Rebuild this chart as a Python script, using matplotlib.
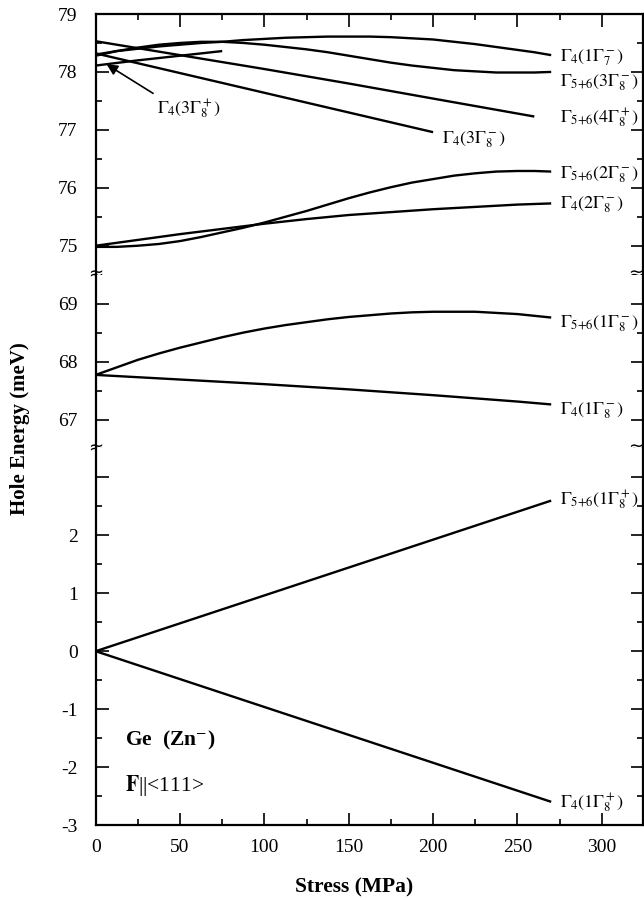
import numpy as np
import matplotlib
matplotlib.use("Agg")
import matplotlib.pyplot as plt
from matplotlib.ticker import MultipleLocator, FixedLocator

plt.rcParams['font.family'] = 'serif'
plt.rcParams['font.serif'] = ['Liberation Serif', 'DejaVu Serif']
plt.rcParams['mathtext.fontset'] = 'stix'
plt.rcParams['axes.unicode_minus'] = False

# ---- data (stress in MPa, energy in meV) ----
s_fine = [0, 12.5, 25, 37.5, 50, 62.5, 75, 87.5, 100, 112.5, 125, 137.5, 150,
          162.5, 175, 187.5, 200, 212.5, 225, 237.5, 250, 260, 270]
# top panel
e_g4_1g7m = [78.30, 78.36, 78.40, 78.44, 78.47, 78.50, 78.52, 78.55, 78.57, 78.59,
             78.60, 78.61, 78.61, 78.61, 78.60, 78.58, 78.56, 78.52, 78.48, 78.43,
             78.38, 78.34, 78.29]
e_g56_3g8m = [78.28, 78.36, 78.42, 78.47, 78.50, 78.52, 78.52, 78.50, 78.47, 78.43,
              78.39, 78.34, 78.28, 78.22, 78.16, 78.11, 78.07, 78.03, 78.01, 77.99,
              77.99, 77.99, 78.00]
s_4g8p = [0, 50, 100, 150, 200, 260]
e_g56_4g8p = [78.53, 78.29, 78.05, 77.80, 77.54, 77.23]
s_3g8m_4 = [0, 50, 100, 150, 200]
e_g4_3g8m = [78.32, 77.98, 77.64, 77.30, 76.96]
s_3g8p = [0, 25, 50, 75]
e_g4_3g8p = [78.11, 78.20, 78.28, 78.36]
e_g56_2g8m = [74.98, 74.98, 75.00, 75.03, 75.08, 75.15, 75.23, 75.31, 75.40, 75.50,
              75.60, 75.71, 75.82, 75.92, 76.01, 76.09, 76.15, 76.21, 76.25, 76.28,
              76.29, 76.29, 76.28]
s_2g8m_4 = [0, 25, 50, 75, 100, 125, 150, 175, 200, 225, 250, 270]
e_g4_2g8m = [75.00, 75.10, 75.20, 75.29, 75.38, 75.46, 75.53, 75.58, 75.63, 75.67, 75.71, 75.73]
# middle panel
e_g56_1g8m = [67.77, 67.90, 68.03, 68.14, 68.24, 68.33, 68.42, 68.50, 68.57, 68.63,
              68.68, 68.73, 68.77, 68.80, 68.83, 68.85, 68.86, 68.86, 68.86, 68.84,
              68.82, 68.79, 68.76]
s_1g8m_4 = [0, 50, 100, 150, 200, 250, 270]
e_g4_1g8m = [67.77, 67.69, 67.61, 67.52, 67.42, 67.31, 67.26]
# bottom panel
s_1g8p = [0, 270]
e_g56_1g8p = [0.0, 2.60]
e_g4_1g8p = [0.0, -2.60]

# label text and where the Gamma sits (stress, energy)
labels_top = [
    (r'$\Gamma_4(1\Gamma_7^-)$', 275, 78.29),
    (r'$\Gamma_{5{+}6}(3\Gamma_8^-)$', 275, 77.86),
    (r'$\Gamma_{5{+}6}(4\Gamma_8^+)$', 275, 77.23),
    (r'$\Gamma_4(3\Gamma_8^-)$', 205, 76.87),
    (r'$\Gamma_{5{+}6}(2\Gamma_8^-)$', 275, 76.27),
    (r'$\Gamma_4(2\Gamma_8^-)$', 275, 75.75),
]
labels_mid = [
    (r'$\Gamma_{5{+}6}(1\Gamma_8^-)$', 275, 68.70),
    (r'$\Gamma_4(1\Gamma_8^-)$', 275, 67.20),
]
labels_bot = [
    (r'$\Gamma_{5{+}6}(1\Gamma_8^+)$', 275, 2.64),
    (r'$\Gamma_4(1\Gamma_8^+)$', 275, -2.60),
]

fig = plt.figure(figsize=(6.44, 9.0), dpi=100)
gs = fig.add_gridspec(3, 1, height_ratios=[4.5, 3.0, 6.5], hspace=0,
                      left=95.7 / 644, right=643.3 / 644,
                      top=1 - 14 / 900, bottom=1 - 825 / 900)
ax1 = fig.add_subplot(gs[0])
ax2 = fig.add_subplot(gs[1], sharex=ax1)
ax3 = fig.add_subplot(gs[2], sharex=ax1)

kw = dict(color='black', lw=1.7, solid_capstyle='butt', solid_joinstyle='round')
ax1.plot(s_fine, e_g4_1g7m, **kw)
ax1.plot(s_fine, e_g56_3g8m, **kw)
ax1.plot(s_4g8p, e_g56_4g8p, **kw)
ax1.plot(s_3g8m_4, e_g4_3g8m, **kw)
ax1.plot(s_3g8p, e_g4_3g8p, **kw)
ax1.plot(s_fine, e_g56_2g8m, **kw)
ax1.plot(s_2g8m_4, e_g4_2g8m, **kw)
ax2.plot(s_fine, e_g56_1g8m, **kw)
ax2.plot(s_1g8m_4, e_g4_1g8m, **kw)
ax3.plot(s_1g8p, e_g56_1g8p, **kw)
ax3.plot(s_1g8p, e_g4_1g8p, **kw)

ax1.set_xlim(0, 324.6)
ax1.set_ylim(74.5, 79)
ax2.set_ylim(66.5, 69.5)
ax3.set_ylim(-3, 3.5)

for ax in (ax1, ax2, ax3):
    for sp in ax.spines.values():
        sp.set_linewidth(1.6)
    ax.tick_params(which='both', direction='in', left=True, right=True,
                   top=False, bottom=False, labelbottom=False, width=1.2,
                   labelsize=14, pad=13)
    ax.tick_params(which='major', length=9)
    ax.tick_params(which='minor', length=4.5)

ax1.spines['bottom'].set_visible(False)
ax2.spines['top'].set_visible(False)
ax2.spines['bottom'].set_visible(False)
ax3.spines['top'].set_visible(False)

ax1.tick_params(which='both', axis='x', top=True)
ax3.tick_params(which='both', axis='x', bottom=True, labelbottom=True, pad=10)
ax3.xaxis.set_major_locator(MultipleLocator(50))
ax3.xaxis.set_minor_locator(MultipleLocator(25))

ax1.yaxis.set_major_locator(FixedLocator([75, 76, 77, 78, 79]))
ax1.yaxis.set_minor_locator(FixedLocator([75.5, 76.5, 77.5, 78.5]))
ax2.yaxis.set_major_locator(FixedLocator([67, 68, 69]))
ax2.yaxis.set_minor_locator(FixedLocator([67.5, 68.5]))
ax3.yaxis.set_major_locator(FixedLocator([-3, -2, -1, 0, 1, 2, 3]))
ax3.yaxis.set_minor_locator(FixedLocator([-2.5, -1.5, -0.5, 0.5, 1.5, 2.5]))
ax3.set_yticklabels(['-3', '-2', '-1', '0', '1', '2', ''])

# curve labels: Gamma vertically centred on the given energy
for ax, labs in ((ax1, labels_top), (ax2, labels_mid), (ax3, labels_bot)):
    for txt, x, y in labs:
        ax.annotate(txt, xy=(x, y), xytext=(0, -4.5), textcoords='offset points',
                    ha='left', va='baseline', fontsize=13, annotation_clip=False)

# arrow to the short Gamma4(3Gamma8+) line
ax1.annotate('', xy=(6.5, 78.13), xytext=(34, 77.63),
             arrowprops=dict(arrowstyle='-|>', color='black', lw=1.2,
                             mutation_scale=16, shrinkA=0, shrinkB=0))
ax1.annotate(r'$\Gamma_4(3\Gamma_8^+)$', xy=(36.3, 77.39), xytext=(0, -4.5),
             textcoords='offset points', ha='left', va='baseline', fontsize=13)

ax3.text(17.4, -1.63, 'Ge  (Zn$^{-}$)', fontsize=15.5, fontweight='bold', va='baseline')
ax3.text(17.4, -2.41, r'$\mathbf{F}$||<111>', fontsize=15.5, va='baseline')

# axis break marks on both spines
for ax in (ax1, ax2):
    ax.text(0, 0, '≈', transform=ax.transAxes, ha='center', va='center',
            fontsize=13, family='DejaVu Sans', clip_on=False)
    ax.text(1, 0, '≈', transform=ax.transAxes, ha='right', va='center',
            fontsize=13, family='DejaVu Sans', clip_on=False)

fig.text(20 / 644, 1 - 429 / 900, 'Hole Energy (meV)', rotation=90,
         ha='center', va='center', fontsize=15, fontweight='bold')
fig.text(354.5 / 644, 1 - 887 / 900, 'Stress (MPa)',
         ha='center', va='center', fontsize=15.5, fontweight='bold')

fig.savefig('out.png', dpi=100)
